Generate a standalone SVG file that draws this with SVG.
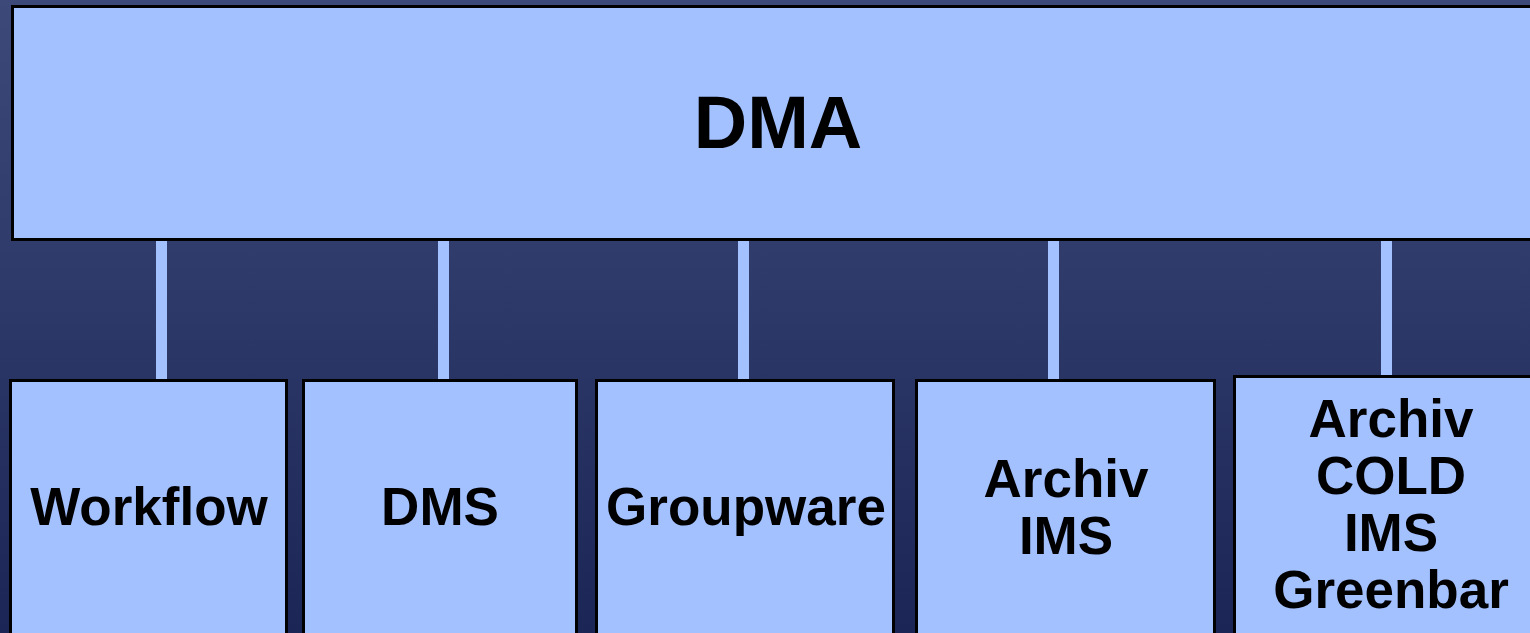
<svg xmlns="http://www.w3.org/2000/svg" width="1530" height="633" viewBox="0 0 1530 633">
<defs>
<linearGradient id="bg" x1="0" y1="0" x2="0" y2="1">
<stop offset="0" stop-color="#3d4a79"/>
<stop offset="1" stop-color="#1b2657"/>
</linearGradient>
</defs>
<style>
.box{fill:#a3c0ff;stroke:#000;stroke-width:3}
.conn{fill:#a3c0ff}
text{font-family:"Liberation Sans",Arial,sans-serif;font-weight:bold;fill:#000;text-anchor:middle}
.t{font-size:53px}
.big{font-size:74px}
</style>
<rect x="0" y="0" width="1530" height="633" fill="url(#bg)"/>
<g id="connectors">
<rect class="conn" x="156" y="241" width="11" height="138"/>
<rect class="conn" x="438" y="241" width="11" height="138"/>
<rect class="conn" x="738" y="241" width="11" height="138"/>
<rect class="conn" x="1048" y="241" width="11" height="138"/>
<rect class="conn" x="1381" y="241" width="11" height="134"/>
</g>
<g id="dma">
<rect class="box" x="12.5" y="6.5" width="1530" height="233"/>
<text class="big" x="778" y="148">DMA</text>
</g>
<g id="workflow">
<rect class="box" x="10.5" y="380.5" width="276" height="270"/>
<text class="t" x="149" y="525">Workflow</text>
</g>
<g id="dms">
<rect class="box" x="303.5" y="380.5" width="273" height="270"/>
<text class="t" x="440" y="525">DMS</text>
</g>
<g id="groupware">
<rect class="box" x="596.5" y="380.5" width="297" height="270"/>
<text class="t" x="746" y="525">Groupware</text>
</g>
<g id="archiv-ims">
<rect class="box" x="916.5" y="380.5" width="298" height="270"/>
<text class="t" x="1066" y="497">Archiv</text>
<text class="t" x="1066" y="554">IMS</text>
</g>
<g id="archiv-cold">
<rect class="box" x="1234.5" y="376.5" width="300" height="270"/>
<text class="t" x="1391" y="437">Archiv</text>
<text class="t" x="1391" y="494">COLD</text>
<text class="t" x="1391" y="551">IMS</text>
<text class="t" x="1391" y="608">Greenbar</text>
</g>
</svg>
